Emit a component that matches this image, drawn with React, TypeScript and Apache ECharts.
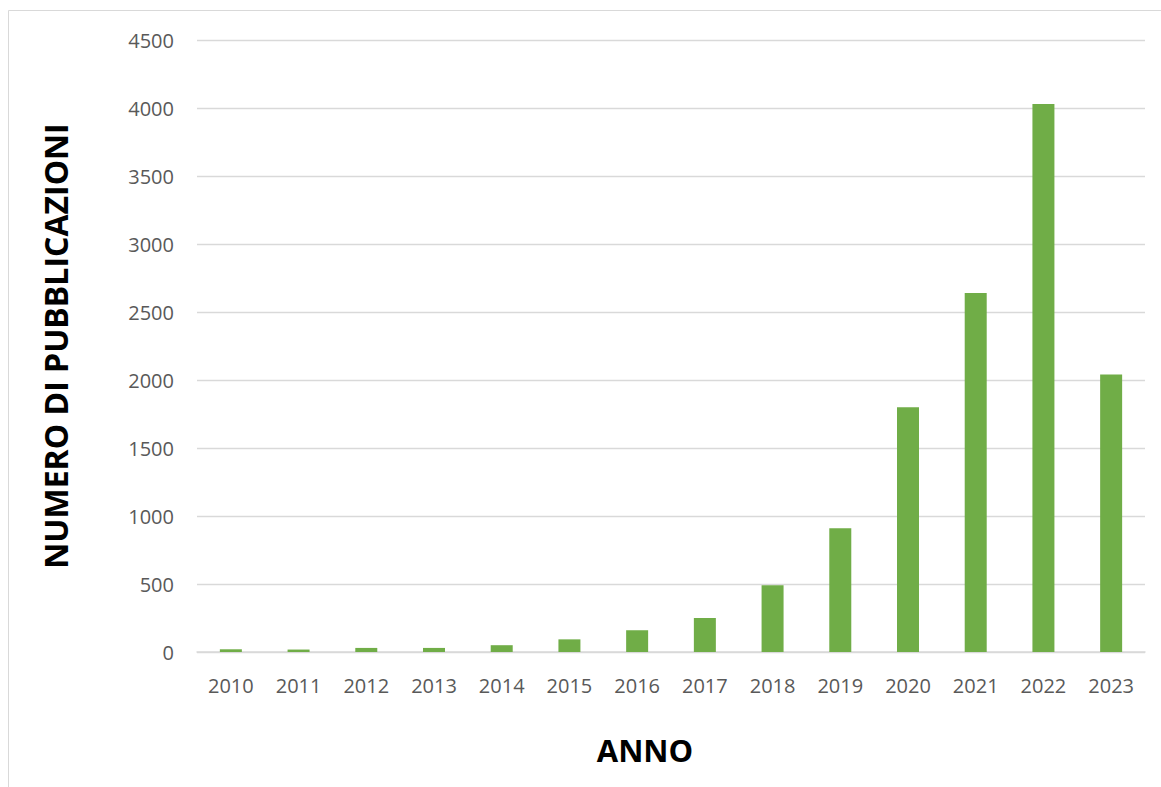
import React, { useEffect, useRef } from "react";
import * as echarts from "echarts";

const years = ["2010", "2011", "2012", "2013", "2014", "2015", "2016", "2017", "2018", "2019", "2020", "2021", "2022", "2023"];
const publications = [20, 18, 30, 30, 50, 93, 160, 250, 490, 910, 1800, 2640, 4030, 2040];
const yTitle = "NUMERO DI PUBBLICAZIONI";
const xTitle = "ANNO";

export default function App() {
  const ref = useRef<HTMLDivElement>(null);

  useEffect(() => {
    if (!ref.current) return;
    const chart = echarts.init(ref.current, null, { renderer: "svg" });
    const font = "'Open Sans', 'Noto Sans', sans-serif";
    chart.setOption({
      animation: false,
      backgroundColor: "#ffffff",
      graphic: [
        {
          type: "rect",
          shape: { x: 8.5, y: 10.5, width: 1300, height: 900 },
          style: { fill: "none", stroke: "#d9d9d9", lineWidth: 1 },
          silent: true,
        },
        {
          type: "text",
          x: 55,
          y: 346,
          rotation: Math.PI / 2,
          style: {
            text: yTitle,
            font: `bold 32px ${font}`,
            fill: "#000000",
            align: "center",
            verticalAlign: "middle",
          },
        },
        {
          type: "text",
          x: 645,
          y: 750,
          style: {
            text: xTitle,
            font: `bold 31px ${font}`,
            fill: "#000000",
            align: "center",
            verticalAlign: "middle",
          },
        },
      ],
      grid: { left: 197, right: 16, top: 40, bottom: 135 },
      xAxis: {
        type: "category",
        data: years,
        axisLine: { lineStyle: { color: "#d9d9d9", width: 1.5 } },
        axisTick: { show: false },
        axisLabel: { fontFamily: font, fontSize: 20, color: "#595959", margin: 23 },
      },
      yAxis: {
        type: "value",
        min: 0,
        max: 4500,
        interval: 500,
        axisLine: { show: false },
        axisTick: { show: false },
        axisLabel: {
          fontFamily: font,
          fontSize: 20,
          color: "#595959",
          margin: 23,
          formatter: (v: number) => String(v),
        },
        splitLine: { lineStyle: { color: "#d9d9d9", width: 1.3 } },
      },
      series: [
        {
          type: "bar",
          data: publications,
          barWidth: 22,
          itemStyle: { color: "#70ad47" },
        },
      ],
    });
    return () => chart.dispose();
  }, []);

  return <div ref={ref} style={{ width: 1161, height: 787, position: "absolute", left: 0, top: 0 }} />;
}
